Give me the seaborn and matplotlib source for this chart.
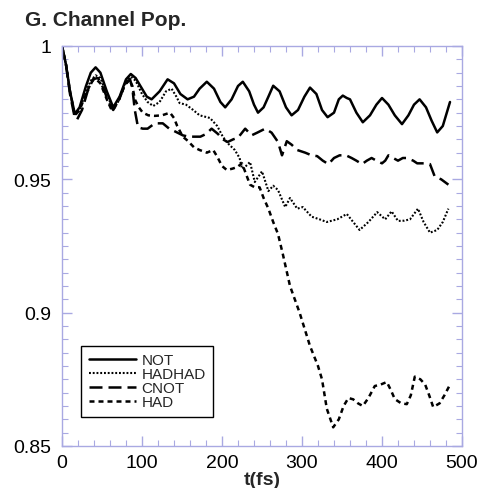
import numpy as np
import pandas as pd
import matplotlib
matplotlib.use("Agg")
import matplotlib.pyplot as plt
import seaborn as sns

# ---------------- data ----------------
t_not = [0, 5, 10, 16, 22, 30, 36, 42, 48, 56, 64, 72, 80, 86, 92, 100, 106, 112, 122, 132,
         140, 148, 157, 165, 172, 181, 190, 198, 204, 212, 220, 226, 234, 240, 245, 252, 258,
         264, 272, 280, 287, 295, 303, 310, 318, 325, 332, 340, 346, 351, 356, 360, 368, 376,
         385, 393, 400, 408, 416, 425, 433, 440, 447, 455, 462, 469, 476, 485]
v_not = [1.0, 0.993, 0.983, 0.9745, 0.977, 0.985, 0.990, 0.992, 0.990, 0.983, 0.977, 0.981,
         0.9875, 0.9895, 0.988, 0.984, 0.981, 0.980, 0.983, 0.9875, 0.986, 0.982, 0.980, 0.981,
         0.984, 0.9866, 0.984, 0.979, 0.977, 0.980, 0.985, 0.9866, 0.983, 0.978, 0.975, 0.977,
         0.981, 0.9851, 0.983, 0.977, 0.974, 0.976, 0.981, 0.9844, 0.982, 0.976, 0.9733, 0.975,
         0.980, 0.9814, 0.9805, 0.980, 0.975, 0.9714, 0.974, 0.978, 0.9805, 0.978, 0.974,
         0.9707, 0.974, 0.978, 0.980, 0.977, 0.972, 0.9676, 0.970, 0.979]

t_hadhad = [0, 5, 10, 16, 22, 30, 36, 42, 48, 56, 64, 72, 80, 86, 92, 100, 107, 114, 122, 130,
            137, 143, 147, 155, 164, 172, 185, 194, 201, 207, 216, 222, 225, 230, 235, 241, 250,
            258, 264, 270, 279, 285, 294, 301, 312, 322, 331, 344, 356, 364, 372, 383, 394, 404,
            412, 420, 428, 435, 440, 445, 452, 460, 469, 476, 483]
v_hadhad = [1.0, 0.993, 0.983, 0.974, 0.976, 0.983, 0.987, 0.989, 0.988, 0.982, 0.976, 0.980,
            0.987, 0.9885, 0.987, 0.982, 0.979, 0.9775, 0.979, 0.983, 0.984, 0.981, 0.9786,
            0.978, 0.976, 0.974, 0.973, 0.970, 0.966, 0.9636, 0.961, 0.958, 0.954, 0.955, 0.9565,
            0.949, 0.953, 0.9456, 0.9476, 0.946, 0.9396, 0.943, 0.939, 0.9396, 0.936, 0.935,
            0.934, 0.935, 0.937, 0.934, 0.931, 0.934, 0.9377, 0.935, 0.938, 0.9344, 0.9345,
            0.935, 0.937, 0.939, 0.934, 0.930, 0.931, 0.934, 0.939]

t_cnot = [0, 5, 10, 16, 19, 25, 32, 39, 45, 52, 58, 64, 70, 78, 85, 88, 91, 95, 101, 107, 116,
          126, 134, 141, 151, 158, 166, 173, 180, 187, 195, 201, 207, 214, 220, 229, 237, 244,
          254, 262, 270, 275, 281, 287, 294, 304, 312, 319, 326, 333, 340, 347, 355, 362, 368,
          375, 381, 387, 393, 400, 404, 408, 414, 420, 426, 431, 439, 444, 450, 455, 460, 466,
          474, 483]
v_cnot = [1.0, 0.993, 0.982, 0.973, 0.9725, 0.976, 0.983, 0.9876, 0.988, 0.984, 0.979, 0.976,
          0.979, 0.985, 0.9876, 0.984, 0.976, 0.9695, 0.969, 0.969, 0.971, 0.971, 0.969, 0.968,
          0.9665, 0.966, 0.966, 0.966, 0.967, 0.969, 0.967, 0.965, 0.964, 0.965, 0.9656, 0.969,
          0.9665, 0.9675, 0.969, 0.9675, 0.964, 0.959, 0.9643, 0.963, 0.961, 0.960, 0.959,
          0.9587, 0.957, 0.9557, 0.958, 0.959, 0.959, 0.958, 0.957, 0.9557, 0.957, 0.958, 0.957,
          0.956, 0.957, 0.959, 0.958, 0.957, 0.958, 0.958, 0.957, 0.956, 0.956, 0.956, 0.9557,
          0.951, 0.950, 0.948]

t_had = [0, 5, 10, 16, 22, 30, 36, 41, 48, 56, 62, 70, 78, 84, 88, 91, 96, 101, 108, 116, 125,
         135, 140, 144, 151, 157, 165, 172, 181, 189, 194, 200, 206, 213, 219, 225, 230, 235,
         241, 247, 252, 258, 264, 270, 276, 285, 297, 310, 316, 320, 325, 331, 339, 346, 352,
         358, 364, 370, 376, 383, 391, 398, 406, 411, 416, 424, 431, 436, 441, 448, 454, 459,
         464, 472, 478, 485]
v_had = [1.0, 0.993, 0.983, 0.974, 0.976, 0.982, 0.986, 0.988, 0.986, 0.980, 0.976, 0.979,
         0.985, 0.9875, 0.985, 0.980, 0.977, 0.975, 0.974, 0.9738, 0.974, 0.975, 0.973, 0.970,
         0.966, 0.9645, 0.962, 0.961, 0.960, 0.961, 0.9585, 0.955, 0.9535, 0.954, 0.9546,
         0.956, 0.952, 0.948, 0.947, 0.947, 0.943, 0.939, 0.934, 0.9295, 0.922, 0.910, 0.900,
         0.8875, 0.883, 0.880, 0.875, 0.864, 0.857, 0.860, 0.865, 0.868, 0.8675, 0.866, 0.865,
         0.868, 0.8725, 0.873, 0.874, 0.871, 0.8676, 0.866, 0.8657, 0.869, 0.876, 0.875, 0.873,
         0.869, 0.8646, 0.866, 0.869, 0.873]

series_names = ["NOT", "HADHAD", "CNOT", "HAD"]
x_ticks = [0, 100, 200, 300, 400, 500]
x_tick_labels = ["0", "100", "200", "300", "400", "500"]
y_ticks = [0.85, 0.9, 0.95, 1.0]
y_tick_labels = ["0.85", "0.9", "0.95", "1"]
title_text = "G. Channel Pop."
x_label = "t(fs)"

# ---------------- styling ----------------
sns.set_theme(style="white")
plt.rcParams["font.family"] = ["Liberation Sans", "DejaVu Sans"]

spine_col = "#a9a9e2"

fig = plt.figure(figsize=(4.79, 4.89), dpi=100)
ax = fig.add_axes([62 / 479, 42 / 489, 400 / 479, 400 / 489])

data = {
    "NOT": (t_not, v_not),
    "HADHAD": (t_hadhad, v_hadhad),
    "CNOT": (t_cnot, v_cnot),
    "HAD": (t_had, v_had),
}
styles = {
    "NOT": dict(linestyle="-", linewidth=1.8),
    "HADHAD": dict(linestyle=(0, (0.9, 0.9)), linewidth=1.5),
    "CNOT": dict(linestyle=(0, (5.2, 2.4)), linewidth=1.8),
    "HAD": dict(linestyle=(0, (2.0, 1.6)), linewidth=1.8),
}
for name in series_names:
    t, v = data[name]
    df = pd.DataFrame({"t": t, "pop": v})
    sns.lineplot(data=df, x="t", y="pop", ax=ax, color="black", label=name,
                 estimator=None, sort=False, **styles[name])

ax.set_xlim(0, 500)
ax.set_ylim(0.85, 1.0)
ax.set_xticks(x_ticks)
ax.set_xticklabels(x_tick_labels)
ax.set_yticks(y_ticks)
ax.set_yticklabels(y_tick_labels)
ax.xaxis.set_minor_locator(matplotlib.ticker.MultipleLocator(20))
ax.yaxis.set_minor_locator(matplotlib.ticker.MultipleLocator(0.005))

for s in ax.spines.values():
    s.set_color(spine_col)
    s.set_linewidth(1.0)
    s.set_visible(True)

ax.tick_params(axis="both", which="both", direction="in", top=True, right=True,
               bottom=True, left=True, color=spine_col, labelcolor="black")
ax.tick_params(axis="both", which="major", length=7, width=1.0, labelsize=14)
ax.tick_params(axis="both", which="minor", length=4, width=0.8)
ax.tick_params(axis="y", which="major", pad=8)
ax.tick_params(axis="x", which="major", pad=6)

ax.set_xlabel(x_label, fontsize=14, fontweight="bold", labelpad=0)
ax.set_ylabel("")

fig.text(25 / 479, 1 - 20 / 489, title_text, fontsize=15, fontweight="bold",
         ha="left", va="center")

leg = ax.legend(loc="lower left", bbox_to_anchor=(0.0475, 0.0725), borderaxespad=0,
                fontsize=11, frameon=True, fancybox=False, handlelength=3.1,
                handletextpad=0.35, labelspacing=0.0, borderpad=0.5)
leg.get_frame().set_edgecolor("black")
leg.get_frame().set_linewidth(1.0)
leg.get_frame().set_alpha(1)

fig.savefig("out.png", dpi=100)
